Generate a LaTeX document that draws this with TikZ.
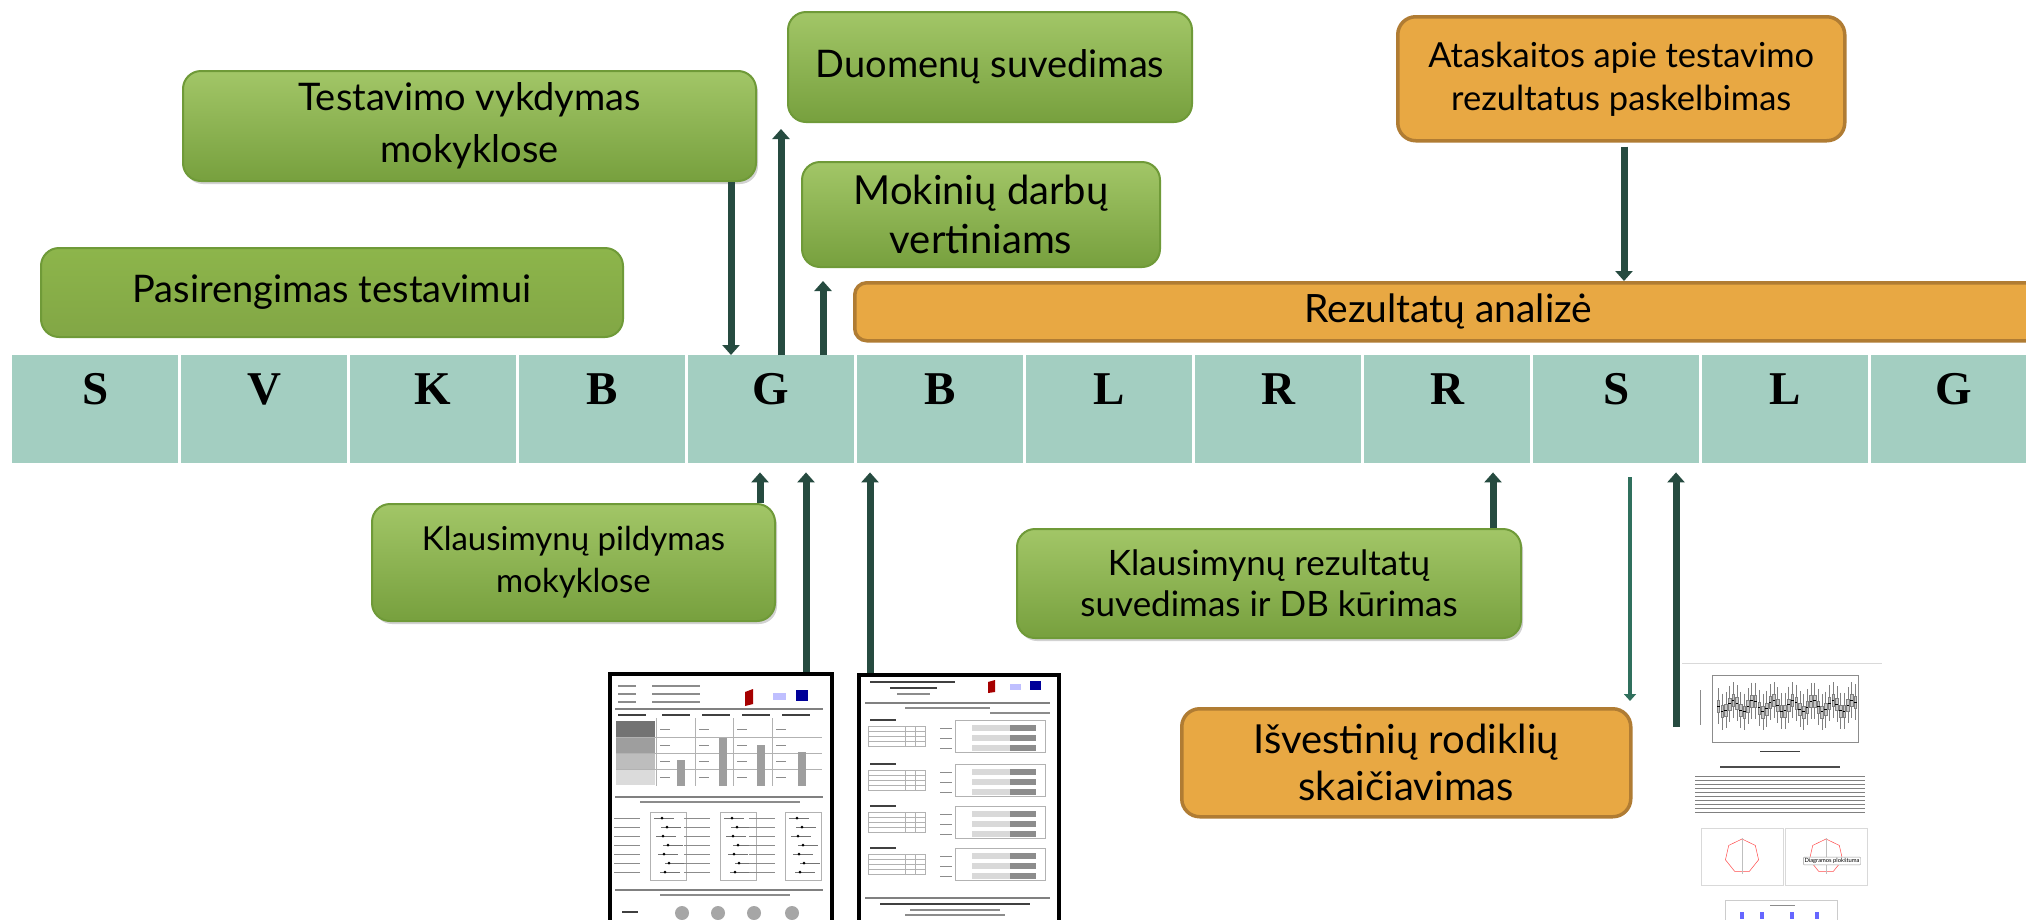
\documentclass[tikz,border=0pt]{standalone}
\usepackage{fontspec}
\setmainfont{Lato}
\newfontfamily\cellfont{Liberation Serif}
\usetikzlibrary{positioning, arrows.meta, shadows, shapes.geometric}

\definecolor{cellfill}{HTML}{A3CEC1}
\definecolor{arrowgreen}{HTML}{264B40}
\definecolor{thingreen}{HTML}{30705D}
\definecolor{greentop}{HTML}{A2C667}
\definecolor{greenbot}{HTML}{77A03E}
\definecolor{greenedge}{HTML}{6F9A38}
\definecolor{greenflat}{HTML}{8DB54B}
\definecolor{orangefill}{HTML}{E8A843}
\definecolor{orangeedge}{HTML}{B07C33}

\tikzset{
  cell/.style={fill=cellfill, minimum width=166pt, minimum height=108pt, inner sep=0pt, anchor=north west},
  letter/.style={font=\cellfont\bfseries\fontsize{47}{47}\selectfont, inner sep=0pt},
  box/.style={rounded corners=18pt, align=center, inner sep=0pt, anchor=north west, font=\fontsize{38}{52}\selectfont},
  stage/.style={box, draw=greenedge, line width=2pt, top color=greentop, bottom color=greenbot},
  raised/.style={drop shadow={opacity=0.35, shadow xshift=2pt, shadow yshift=-3pt}},
  report/.style={box, draw=orangeedge, line width=3.5pt, fill=orangefill},
  bigarrow/.style={draw=arrowgreen, line width=7pt, -{Triangle[width=17pt, length=10pt]}},
  thinarrow/.style={draw=thingreen, line width=4.5pt, -{Triangle[width=12pt, length=7pt]}},
  sheet/.style={draw=black, line width=4pt, fill=white, anchor=north west, inner sep=0pt},
  txt/.style={black!45, line width=1.2pt},
  txtb/.style={black!75, line width=1.8pt},
  rule/.style={black!50, line width=1.8pt},
  gridl/.style={black!30, line width=0.6pt}
}

\begin{document}
\begin{tikzpicture}[x=1pt, y=-1pt]
  \useasboundingbox (0,0) rectangle (2026,919);
  \clip (0,0) rectangle (2026,919);
  \fill[white] (0,0) rectangle (2026,919);

  % timeline
  \foreach \l [count=\i] in {S,V,K,B,G,B,L,R,R,S,L,G} {
    \node[cell] (c\i) at ({12+(\i-1)*169},355) {};
    \node[letter] at ([yshift=-34pt]c\i.north) {\l};
  }

  % stages
  \node[stage, top color=greenflat, bottom color=greenflat!92!black, minimum width=582pt, minimum height=89pt] (prep) at (40,247) {Pasirengimas testavimui};
  \node[stage, raised, minimum width=573pt, minimum height=110pt] (exec) at (182,70) {Testavimo vykdymas\\mokyklose};
  \node[stage, minimum width=404pt, minimum height=110pt] (entry) at (787,11) {Duomenų suvedimas};
  \node[stage, minimum width=358pt, minimum height=105pt, font=\fontsize{40}{49}\selectfont] (grade) at (801,161) {Mokinių darbų\\vertiniams};
  \node[report, rounded corners=12pt, minimum width=1187pt, minimum height=58pt, font=\fontsize{39}{45}\selectfont] (analysis) at (853,281) {Rezultatų analizė};
  \node[report, minimum width=447pt, minimum height=124pt, font=\fontsize{34.5}{43}\selectfont] (publish) at (1396,15) {Ataskaitos apie testavimo\\rezultatus paskelbimas};
  \node[stage, raised, minimum width=403pt, minimum height=117pt, font=\fontsize{33}{42}\selectfont] (quest) at (371,503) {Klausimynų pildymas\\mokyklose};
  \node[stage, raised, minimum width=504pt, minimum height=109pt, font=\fontsize{35}{41}\selectfont] (qdb) at (1016,528) {Klausimynų rezultatų\\suvedimas ir DB kūrimas};
  \node[report, minimum width=449pt, minimum height=108pt, font=\fontsize{40}{47}\selectfont] (derive) at (1180,707) {Išvestinių rodiklių\\skaičiavimas};

  % report sheets
  \node[sheet, minimum width=222pt, minimum height=260pt] (sheet1) at (608,672) {};
  \node[sheet, minimum width=200pt, minimum height=260pt] (sheet2) at (857,673) {};
  \node[anchor=north west, minimum width=200pt, minimum height=257pt, inner sep=0pt] (sheet3) at (1682,662) {};

  % sheet 1
  \foreach \yy in {686,694,702} {
    \draw[txt] (618,\yy) -- (636,\yy);
    \draw[txt] (652,\yy) -- (700,\yy);
  }
  \fill[red!65!black] (745,692) -- (753,689) -- (753,704) -- (745,706) -- cycle;
  \fill[blue!25] (773,693) rectangle (786,700);
  \fill[blue!60!black] (796,690) rectangle (808,701);
  \draw[rule] (615,709) -- (823,709);
  \foreach \xx in {618,662,702,742,782} \draw[txtb] (\xx,715) -- +(28,0);
  \foreach \g/\yy in {55/721,38/737,26/753,14/769} \fill[black!\g] (616,\yy) rectangle (655,\yy+16);
  \foreach \yy in {737,753,769} \draw[gridl] (616,\yy) -- (822,\yy);
  \foreach \xx in {656,695,733,772} \draw[gridl] (\xx,718) -- (\xx,786);
  \foreach \xx/\yy in {677/760,719/738,757/745,798/752} \fill[black!38] (\xx,\yy) rectangle (\xx+8,786);
  \foreach \xx in {660,699,737,776} \foreach \yy in {729,745,761,777} \draw[txt, line width=0.8pt] (\xx,\yy) -- +(10,0);
  \draw[rule] (615,797) -- (823,797);
  \draw[txt] (640,802) -- (800,802);
  \foreach \xx in {650,720,785} {
    \draw[gridl] (\xx,812) rectangle (\xx+36,880);
    \foreach \k in {0,...,6} {
      \draw[black!55, line width=0.6pt] ({\xx+4+mod(\k*7,12)},{818+9*\k}) -- +(20,0);
      \fill[black] ({\xx+12+mod(\k*5,9)},{818+9*\k}) circle (1.5);
      \draw[txt, line width=0.7pt] ({\xx-36},{818+9*\k}) -- +(26,0);
    }
  }
  \draw[rule] (615,890) -- (823,890);
  \draw[txt] (660,895) -- (790,895);
  \draw[txtb] (622,912) -- (638,912);
  \foreach \xx in {682,718,754,792} \fill[black!35] (\xx,913) circle (7);

  % sheet 2
  \draw[txtb] (870,682) -- (955,682);
  \draw[txtb] (890,688) -- (937,688);
  \draw[txt] (897,694) -- (930,694);
  \fill[red!65!black] (988,682) -- (995,680) -- (995,692) -- (988,693) -- cycle;
  \fill[blue!25] (1010,684) rectangle (1021,690);
  \fill[blue!60!black] (1030,681) rectangle (1041,690);
  \draw[rule] (865,703) -- (1050,703);
  \draw[txt] (905,708) -- (990,708);
  \draw[txt] (990,713) -- (1050,713);
  \foreach \yy in {720,764,806,848} {
    \draw[txtb] (870,\yy) -- (896,\yy);
    \draw[gridl] (868,\yy+6) rectangle (925,\yy+26);
    \foreach \r in {11,16,21} \draw[gridl] (868,\yy+\r) -- (925,\yy+\r);
    \foreach \cx in {905,915} \draw[gridl] (\cx,\yy+6) -- (\cx,\yy+26);
    \draw[gridl] (955,\yy) rectangle (1045,\yy+32);
    \foreach \k in {0,1,2} {
      \draw[txt, line width=0.8pt] (940,\yy+8+\k*10) -- +(12,0);
      \fill[black!15] (972,\yy+5+\k*10) rectangle (1010,\yy+11+\k*10);
      \fill[black!45] (1010,\yy+5+\k*10) rectangle (1036,\yy+11+\k*10);
    }
  }
  \draw[rule] (865,898) -- (1050,898);
  \draw[txtb] (880,904) -- (1030,904);
  \draw[txt] (910,910) -- (1000,910);
  \draw[txt] (905,915) -- (1005,915);

  % sheet 3
  \draw[black!15] (1682,663) -- (1882,663);
  \draw[black!45, line width=0.6pt] (1712,675) rectangle (1858,742);
  \foreach \k in {0,...,37} {
    \pgfmathsetmacro\bx{1717+\k*3.7}
    \pgfmathsetmacro\by{706+6*sin(\k*67)}
    \draw[black!50, line width=0.4pt] (\bx+1.3,\by-18) -- (\bx+1.3,\by+18);
    \filldraw[fill=black!22, draw=black!50, line width=0.3pt] (\bx,\by-6) rectangle (\bx+2.6,\by+6);
    \draw[black, line width=1pt] (\bx,\by) -- (\bx+2.6,\by);
  }
  \draw[txt, line width=0.8pt] (1700,690) -- (1700,725);
  \draw[txtb, line width=1pt] (1760,751) -- (1800,751);
  \draw[black!70, line width=1.3pt] (1720,767) -- (1840,767);
  \foreach \yy in {776,780,...,812} \draw[black!50, line width=1pt] (1695,\yy) -- (1865,\yy);
  \foreach \xx in {1701,1785} {
    \draw[black!15] (\xx,828) rectangle (\xx+82,885);
    \node[regular polygon, regular polygon sides=7, draw=red!70, line width=0.5pt, minimum size=34pt, inner sep=0pt] at (\xx+41,856) {};
    \draw[black!25, line width=0.4pt] (\xx+41,838) -- (\xx+41,874);
  }
  \node[draw=black!40, fill=white, font=\fontsize{5.8}{6}\selectfont, inner sep=1.2pt, rounded corners=1pt] (tip) at (1832,861) {Diagramos plokštuma};
  \draw[black!20] (1725,900) rectangle (1837,925);
  \draw[txt, line width=0.8pt] (1770,905) -- (1795,905);
  \foreach \xx in {1740,1760,1790,1815} \fill[blue!60] (\xx,912) rectangle (\xx+4,919);

  % connectors
  \coordinate (execx) at (731,0);
  \coordinate (entryx) at (781,0);
  \coordinate (gradex) at (823,0);
  \coordinate (questx) at (760,0);
  \coordinate (sheet1x) at (806,0);
  \coordinate (sheet2x) at (870,0);
  \coordinate (qdbx) at (1493,0);
  \coordinate (derivex) at (1630,0);
  \coordinate (publishx) at (1624,0);
  \coordinate (statstart) at (1676,727);

  \draw[bigarrow] (exec.south -| execx) -- (c5.north -| execx);
  \draw[bigarrow, shorten >=6pt] (c5.north -| entryx) -- (entry.south -| entryx);
  \draw[bigarrow, shorten >=13pt] (c5.north -| gradex) -- (grade.south -| gradex);
  \draw[bigarrow, shorten >=9pt] (quest.north -| questx) -- (c5.south -| questx);
  \draw[bigarrow, shorten >=9pt] (sheet1.north -| sheet1x) -- (c5.south -| sheet1x);
  \draw[bigarrow, shorten >=9pt] (sheet2.north -| sheet2x) -- (c6.south -| sheet2x);
  \draw[bigarrow, shorten >=9pt] (qdb.north -| qdbx) -- (c9.south -| qdbx);
  \draw[thinarrow, shorten <=14pt, shorten >=6pt] (c10.south -| derivex) -- (derive.north -| derivex);
  \draw[bigarrow, shorten >=9pt] (statstart) -- (c10.south -| statstart);
  \draw[bigarrow, shorten <=4pt] (publish.south -| publishx) -- (analysis.north -| publishx);
\end{tikzpicture}
\end{document}
